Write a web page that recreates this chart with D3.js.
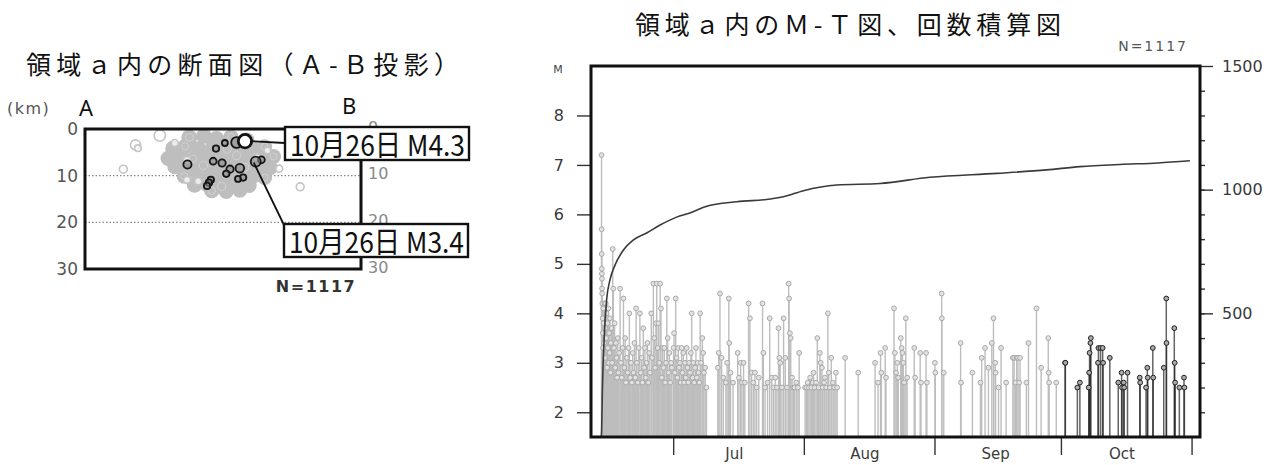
<!DOCTYPE html>
<html>
<head>
<meta charset="utf-8">
<script src="https://cdn.jsdelivr.net/npm/d3@7"></script>
<style>
  body { margin: 0; background: #fff; }
  svg { display: block; }
</style>
</head>
<body>
<script>
// ---------- Data: cross section (distance along A-B in km, depth km, M) ----------
var cloudQuakes = [
  [22.3, 1.8, 2.8], [25.4, 1.5, 2.7], [28.1, 2.2, 2.9], [31.2, 1.7, 2.6], [34.6, 2.4, 2.7],
  [18.9, 4.2, 2.9], [21.4, 3.7, 2.6], [24.2, 4.4, 3.0], [27.3, 3.9, 2.7], [30.4, 4.3, 2.9],
  [33.2, 4.0, 2.6], [36.1, 4.5, 2.8], [38.4, 3.8, 2.6],
  [17.8, 6.3, 2.7], [20.3, 5.9, 2.9], [23.1, 6.4, 2.7], [26.2, 5.8, 3.0], [29.1, 6.2, 2.8],
  [32.4, 5.7, 2.9], [35.3, 6.1, 2.7], [38.2, 6.4, 2.8], [40.3, 5.9, 2.6],
  [19.2, 8.1, 2.6], [22.1, 8.4, 2.8], [25.3, 7.8, 2.9], [28.2, 8.3, 2.7], [31.1, 7.9, 3.0],
  [34.2, 8.2, 2.8], [37.1, 7.7, 2.7], [39.6, 8.3, 2.6],
  [21.2, 10.1, 2.6], [24.3, 9.7, 2.8], [27.2, 10.3, 2.9], [30.1, 9.8, 2.7], [33.3, 10.2, 2.8],
  [36.2, 9.9, 2.7], [38.4, 10.4, 2.6],
  [23.4, 12.0, 2.7], [26.1, 11.8, 2.8], [29.2, 12.3, 2.9], [32.2, 11.9, 2.7], [35.1, 12.1, 2.6],
  [27.1, 13.2, 2.7], [30.2, 13.4, 2.6], [33.1, 13.1, 2.6]
];
var oldOpenQuakes = [
  [10.8, 3.4, 3.3], [11.3, 4.1, 2.5], [16.0, 1.4, 3.6], [8.2, 8.6, 2.8],
  [21.8, 6.7, 2.7], [21.8, 10.9, 2.6], [36.8, 6.2, 2.8], [41.5, 8.5, 2.6], [46.0, 12.4, 2.8],
  [19.2, 3.0, 2.6], [24.2, 11.2, 2.6], [39.0, 4.6, 2.5]
];
var octQuakesXS = [
  [32.4, 2.9, 3.6], [28.0, 4.2, 2.6], [21.9, 7.6, 3.0], [27.4, 6.9, 2.7], [29.3, 7.3, 2.8],
  [31.0, 8.6, 2.8], [33.1, 8.4, 3.1], [33.8, 10.4, 2.6], [32.7, 10.7, 2.5], [26.9, 10.9, 2.6],
  [26.5, 11.5, 2.6], [26.1, 12.2, 2.6], [37.7, 6.6, 2.7], [29.9, 3.0, 2.5], [30.2, 9.6, 2.6]
];
var mainQuakeXS = [34.2, 2.6, 4.3];
var secondQuakeXS = [36.5, 7.0, 3.4];
var depthTicks = [0, 10, 20, 30];
var gridDepths = [10, 20];

// ---------- Data: M-T diagram, [day of month, M] ----------
var junQuakes = [
  [14.0, 7.2], [14.02, 5.7], [14.04, 5.2], [14.06, 4.9], [14.08, 4.8], [14.1, 4.7], [14.12, 4.5],
  [14.15, 4.4], [14.2, 4.2], [14.25, 3.9], [14.3, 3.6], [14.35, 3.3], [14.4, 4.1], [14.5, 3.8],
  [14.6, 3.4], [14.7, 4.2], [14.8, 3.1], [14.9, 3.7], [15.0, 4.2], [15.1, 3.5], [15.2, 4.0],
  [15.3, 2.9], [15.4, 3.8], [15.5, 3.3], [15.6, 4.1], [15.7, 3.0], [15.8, 3.6], [15.9, 3.2],
  [16.0, 3.9], [16.1, 2.8], [16.2, 3.4], [16.35, 3.7], [16.5, 3.0], [16.65, 5.3], [16.8, 4.5],
  [16.95, 3.3], [17.1, 3.8], [17.25, 2.9], [17.4, 3.4], [17.55, 3.1], [17.7, 2.7], [17.85, 3.5],
  [18.0, 2.8], [18.15, 3.2], [18.4, 4.5], [18.6, 3.0], [18.8, 2.7], [19.0, 3.3], [19.2, 4.3],
  [19.4, 2.9], [19.6, 3.5], [19.8, 2.6], [20.0, 3.1], [20.2, 2.8], [20.4, 3.3], [20.6, 4.0],
  [20.8, 2.7], [21.0, 3.0], [21.2, 2.6], [21.4, 3.2], [21.6, 2.8], [21.8, 3.4], [22.0, 2.7],
  [22.2, 4.1], [22.4, 3.0], [22.6, 2.6], [22.8, 3.3], [23.1, 4.0], [23.3, 2.8], [23.5, 3.1],
  [23.7, 2.6], [23.9, 3.7], [24.1, 2.9], [24.3, 3.3], [24.5, 2.7], [24.7, 3.0], [24.9, 3.4],
  [25.1, 2.6], [25.3, 3.2], [25.5, 2.8], [25.8, 4.0], [26.0, 3.1], [26.3, 4.6], [26.5, 3.5],
  [26.7, 2.9], [26.9, 3.8], [27.1, 4.6], [27.3, 3.3], [27.5, 3.8], [27.7, 3.0], [27.9, 4.6],
  [28.1, 4.1], [28.3, 2.7], [28.5, 3.3], [28.7, 2.9], [28.9, 3.3], [29.1, 2.6], [29.3, 3.0],
  [29.5, 4.3], [29.7, 3.5], [29.9, 2.8], [30.1, 3.2], [30.3, 2.6], [30.5, 3.0], [30.7, 2.9]
];
var julQuakes = [
  [1.1, 3.3], [1.2, 3.6], [1.4, 2.8], [1.6, 4.3], [1.8, 3.1], [2.0, 2.7], [2.2, 3.3], [2.4, 2.9],
  [2.6, 3.0], [2.8, 2.6], [3.0, 3.3], [3.2, 2.8], [3.4, 3.2], [3.6, 2.6], [3.8, 3.0], [4.0, 2.7],
  [4.2, 3.3], [4.4, 2.9], [4.6, 2.6], [4.8, 3.0], [5.0, 2.8], [5.2, 3.2], [5.4, 4.0], [5.6, 2.7],
  [5.8, 3.0], [6.0, 2.6], [6.2, 2.9], [6.4, 3.3], [6.6, 2.7], [6.8, 3.0], [7.0, 2.8], [7.2, 2.6],
  [7.4, 4.0], [7.6, 3.0], [7.9, 3.5], [8.1, 3.2], [8.3, 2.8], [8.6, 2.9], [8.9, 2.5],
  [11.6, 2.9], [11.8, 3.2], [12.1, 4.4], [12.5, 3.1], [12.9, 2.7], [13.5, 2.6], [13.8, 3.0],
  [14.2, 4.3], [14.3, 3.4], [14.6, 2.8], [15.2, 2.6], [16.3, 3.2], [16.6, 2.7], [17.0, 3.0],
  [17.3, 2.6], [17.7, 3.0], [18.0, 2.6], [18.9, 4.2], [19.2, 3.9], [19.6, 2.8], [20.0, 2.6],
  [20.4, 2.8], [20.8, 2.5], [21.3, 2.7], [22.2, 4.2], [22.4, 3.2], [22.8, 2.5], [23.4, 2.6],
  [23.9, 3.9], [24.4, 2.7], [24.8, 2.5], [25.2, 2.7], [25.6, 2.5], [26.0, 3.7], [26.2, 3.1],
  [26.4, 3.0], [26.8, 2.5], [27.2, 3.9], [27.6, 3.1], [28.0, 2.5], [28.4, 4.6], [28.5, 4.3],
  [28.7, 3.6], [28.9, 3.5], [29.2, 2.7], [29.5, 2.5], [29.8, 2.5], [30.2, 2.6], [30.6, 2.5],
  [30.9, 3.2]
];
var augQuakes = [
  [1.3, 2.5], [1.6, 2.5], [1.9, 2.6], [2.2, 2.5], [2.5, 2.7], [2.8, 2.5], [3.1, 2.6], [3.3, 2.8],
  [3.6, 2.5], [3.9, 2.6], [4.2, 3.5], [4.5, 2.5], [4.8, 3.2], [5.0, 3.0], [5.3, 2.9], [5.5, 2.5],
  [5.8, 2.6], [6.0, 2.7], [6.3, 2.5], [6.7, 4.0], [6.9, 2.8], [7.2, 2.5], [7.5, 3.1], [7.9, 2.6],
  [8.2, 2.5], [8.6, 2.8], [8.9, 2.5], [10.8, 3.1], [13.9, 2.8], [17.9, 3.0], [18.6, 2.6],
  [19.2, 3.2], [19.4, 2.8], [20.3, 3.3], [20.5, 2.7], [22.4, 4.1], [22.6, 3.2], [22.9, 2.8],
  [23.2, 3.0], [23.4, 2.7], [24.0, 3.5], [24.2, 3.3], [24.4, 3.2], [24.6, 3.0], [24.8, 2.6],
  [25.2, 3.9], [25.5, 2.7], [27.2, 3.3], [27.4, 2.7], [28.6, 3.2], [28.8, 2.6], [30.0, 3.2],
  [30.2, 2.6]
];
var sepQuakes = [
  [1.1, 3.0], [1.2, 2.8], [2.7, 4.4], [2.75, 3.9], [3.2, 2.8], [7.2, 3.4], [7.3, 2.6], [10.0, 2.8],
  [11.9, 2.6], [12.2, 3.1], [13.0, 3.3], [13.8, 2.9], [14.6, 3.4], [15.0, 3.9], [15.4, 3.0],
  [15.5, 2.8], [16.2, 2.5], [16.8, 3.3], [18.0, 2.6], [19.6, 3.1], [19.9, 3.1], [20.2, 2.6],
  [20.5, 3.1], [20.8, 3.1], [21.1, 2.6], [21.3, 3.1], [22.8, 2.6], [23.3, 3.4], [25.2, 4.1],
  [26.3, 2.9], [28.0, 3.5], [28.1, 2.8], [28.2, 2.6], [29.9, 2.6]
];
var octQuakes = [
  [2.0, 3.0], [2.05, 3.0], [4.9, 2.5], [5.5, 2.6], [7.6, 2.5], [7.7, 2.8], [7.8, 3.2], [8.0, 3.4],
  [8.1, 3.5], [9.8, 3.0], [9.9, 3.3], [10.4, 3.3], [10.9, 3.3], [11.0, 3.0], [12.6, 3.1],
  [14.6, 2.6], [15.4, 2.8], [15.5, 2.5], [15.9, 2.6], [16.0, 2.5], [16.8, 2.8], [19.7, 2.7],
  [19.8, 2.6], [21.2, 2.5], [21.5, 2.9], [21.6, 2.7], [22.8, 3.3], [22.9, 2.7], [25.4, 2.9],
  [26.0, 4.3], [26.05, 3.4], [27.9, 3.7], [28.0, 3.0], [28.1, 2.6], [29.1, 2.5], [30.2, 2.7],
  [30.3, 2.5]
];
// cumulative count: days after 1 June, count
var cumDay = [12.9, 13.0, 13.2, 13.6, 14.2, 15.0, 16.2, 18.2, 20.5, 23.7, 26.9, 30.8, 34.0, 37.8,
  45.1, 53.0, 56.1, 60.9, 68.8, 79.1, 90.9, 106.8, 118.6, 126.5, 136.0, 145.0, 152.6];
var cumCount = [0, 16, 190, 392, 554, 635, 695, 756, 796, 825, 857, 889, 906, 932,
  951, 962, 971, 996, 1019, 1025, 1050, 1066, 1080, 1093, 1102, 1108, 1117];
var mTicks = [2, 3, 4, 5, 6, 7, 8];
var nTicks = [500, 1000, 1500];
var monthLabels = ["Jul", "Aug", "Sep", "Oct"];
var totalCount = 1117;

// ---------- SVG ----------
var width = 1281, height = 465;
var svg = d3.select("body").append("svg")
  .attr("width", width)
  .attr("height", height);

var jpFont = "'Noto Sans CJK JP', 'Noto Sans', sans-serif";
var numFont = "'DejaVu Sans', Verdana, sans-serif";

// Titles
svg.append("text")
  .attr("x", 26).attr("y", 74)
  .attr("textLength", 433).attr("lengthAdjust", "spacing")
  .style("font-family", jpFont).style("font-size", "25px").attr("fill", "#111")
  .text("領域ａ内の断面図（Ａ-Ｂ投影）");

svg.append("text")
  .attr("x", 635).attr("y", 34)
  .attr("textLength", 426).attr("lengthAdjust", "spacing")
  .style("font-family", jpFont).style("font-size", "25px").attr("fill", "#111")
  .text("領域ａ内のＭ-Ｔ図、回数積算図");

// ================= Cross section =================
var xs = d3.scaleLinear().domain([0, 59]).range([85, 361]);
var ys = d3.scaleLinear().domain([0, 30]).range([129, 269]);
var rs = d3.scaleLinear().domain([2.5, 4.3]).range([3.3, 7.2]);

var xsec = svg.append("g");

// dotted depth lines
xsec.selectAll(".grid").data(gridDepths).enter().append("line")
  .attr("x1", xs(0)).attr("x2", xs(59))
  .attr("y1", function (d) { return ys(d); })
  .attr("y2", function (d) { return ys(d); })
  .attr("stroke", "#888").attr("stroke-width", 1.3)
  .attr("stroke-dasharray", "1.5,2");

// depth labels left and right (right ones partly hidden behind the label boxes)
xsec.selectAll(".dl").data(depthTicks).enter().append("text")
  .attr("x", 78).attr("y", function (d) { return ys(d); })
  .attr("dy", "0.36em").attr("text-anchor", "end")
  .style("font-family", numFont).style("font-size", "17px").attr("fill", "#555")
  .text(function (d) { return d; });

xsec.append("clipPath").attr("id", "rclip")
  .selectAll("rect").data([[362, 100, 40, 26], [362, 160, 40, 63], [362, 259, 40, 30]])
  .enter().append("rect")
  .attr("x", function (d) { return d[0]; }).attr("y", function (d) { return d[1]; })
  .attr("width", function (d) { return d[2]; }).attr("height", function (d) { return d[3]; });
xsec.append("g").attr("clip-path", "url(#rclip)")
  .selectAll(".dr").data(depthTicks).enter().append("text")
  .attr("x", 368).attr("y", function (d) { return ys(d) - 2; })
  .attr("dy", "0.36em")
  .style("font-family", numFont).style("font-size", "16px").attr("fill", "#888")
  .text(function (d) { return d; });

xsec.append("text").attr("x", 7).attr("y", 114)
  .style("font-family", numFont).style("font-size", "16px").attr("fill", "#555")
  .attr("letter-spacing", "1.5px")
  .text("(km)");
xsec.append("text").attr("x", 79).attr("y", 116)
  .style("font-family", "'Noto Sans', sans-serif").style("font-size", "22px").attr("fill", "#111")
  .text("A");
xsec.append("text").attr("x", 342).attr("y", 114)
  .style("font-family", "'Noto Sans', sans-serif").style("font-size", "22px").attr("fill", "#111")
  .text("B");

// gray cloud of earlier hypocenters
xsec.selectAll(".cloud").data(cloudQuakes).enter().append("circle")
  .attr("cx", function (d) { return xs(d[0]); })
  .attr("cy", function (d) { return ys(d[1]); })
  .attr("r", function (d) { return rs(d[2]) + 4; })
  .attr("fill", "#bebebe");
xsec.selectAll(".cloudring").data(cloudQuakes.filter(function (d, i) { return i % 3 === 0; }))
  .enter().append("circle")
  .attr("cx", function (d) { return xs(d[0]); })
  .attr("cy", function (d) { return ys(d[1]); })
  .attr("r", function (d) { return rs(d[2]); })
  .attr("fill", "none").attr("stroke", "#d2d2d2").attr("stroke-width", 1);

xsec.selectAll(".old").data(oldOpenQuakes).enter().append("circle")
  .attr("cx", function (d) { return xs(d[0]); })
  .attr("cy", function (d) { return ys(d[1]); })
  .attr("r", function (d) { return rs(d[2]); })
  .attr("fill", "#fff").attr("fill-opacity", 0.7)
  .attr("stroke", "#c4c4c4").attr("stroke-width", 1.6);

// October hypocenters
xsec.selectAll(".oct").data(octQuakesXS.concat([secondQuakeXS])).enter().append("circle")
  .attr("cx", function (d) { return xs(d[0]); })
  .attr("cy", function (d) { return ys(d[1]); })
  .attr("r", function (d) { return rs(d[2]) - 0.3; })
  .attr("fill", "#8a8a8a").attr("fill-opacity", 0.6)
  .attr("stroke", "#151515").attr("stroke-width", 1.8);

xsec.append("circle")
  .attr("cx", xs(mainQuakeXS[0])).attr("cy", ys(mainQuakeXS[1]))
  .attr("r", rs(mainQuakeXS[2]) - 0.5)
  .attr("fill", "#fff").attr("stroke", "#111").attr("stroke-width", 2.8);

// frame
xsec.append("rect")
  .attr("x", xs(0)).attr("y", ys(0))
  .attr("width", xs(59) - xs(0)).attr("height", ys(30) - ys(0))
  .attr("fill", "none").attr("stroke", "#111").attr("stroke-width", 3);

// leader lines and label boxes
xsec.append("line")
  .attr("x1", xs(mainQuakeXS[0]) + 5).attr("y1", ys(mainQuakeXS[1]))
  .attr("x2", 285).attr("y2", 143)
  .attr("stroke", "#111").attr("stroke-width", 1.8);
xsec.append("line")
  .attr("x1", xs(secondQuakeXS[0]) - 2).attr("y1", ys(secondQuakeXS[1]) + 1)
  .attr("x2", 284).attr("y2", 225)
  .attr("stroke", "#111").attr("stroke-width", 1.8);

var boxes = [
  { x: 285, y: 127, text: "10月26日 M4.3" },
  { x: 284, y: 224, text: "10月26日 M3.4" }
];
boxes.forEach(function (b) {
  xsec.append("rect")
    .attr("x", b.x).attr("y", b.y).attr("width", 184).attr("height", 33)
    .attr("fill", "#fff").attr("stroke", "#111").attr("stroke-width", 2.4);
  xsec.append("text")
    .attr("x", b.x + 5).attr("y", b.y + 29)
    .attr("textLength", 175).attr("lengthAdjust", "spacingAndGlyphs")
    .style("font-family", jpFont).style("font-size", "29px").attr("fill", "#111")
    .text(b.text);
});

xsec.append("text").attr("x", 316).attr("y", 292)
  .attr("text-anchor", "middle").attr("letter-spacing", "1.5px")
  .style("font-family", numFont).style("font-size", "16px").style("font-weight", "bold")
  .attr("fill", "#333")
  .text("N=" + totalCount);

// ================= M-T diagram =================
var x = d3.scaleTime()
  .domain([new Date(2023, 5, 11, 12), new Date(2023, 10, 3)])
  .range([591, 1200]);
var yM = d3.scaleLinear().domain([1.5, 9]).range([437, 66]);
var yN = d3.scaleLinear().domain([0, 1500]).range([437, 66]);

function monthDate(m, dom) {
  return new Date(new Date(2023, m, 1).getTime() + (dom - 1) * 864e5);
}
function toEvents(list, m, isOct) {
  return list.map(function (d) { return { t: monthDate(m, d[0]), mag: d[1], oct: isOct }; });
}
var grayEvents = [].concat(
  toEvents(junQuakes, 5, false), toEvents(julQuakes, 6, false),
  toEvents(augQuakes, 7, false), toEvents(sepQuakes, 8, false));
var octEvents = toEvents(octQuakes, 9, true);

var mt = svg.append("g");

// stems
mt.selectAll(".gstem").data(grayEvents).enter().append("line")
  .attr("x1", function (d) { return x(d.t); })
  .attr("x2", function (d) { return x(d.t); })
  .attr("y1", yM(1.5)).attr("y2", function (d) { return yM(d.mag); })
  .attr("stroke", "#bdbdbd").attr("stroke-width", 1.4);
mt.selectAll(".gdot").data(grayEvents).enter().append("circle")
  .attr("cx", function (d) { return x(d.t); })
  .attr("cy", function (d) { return yM(d.mag); })
  .attr("r", 2.4)
  .attr("fill", "#e2e2e2").attr("stroke", "#a9a9a9").attr("stroke-width", 1);

mt.selectAll(".ostem").data(octEvents).enter().append("line")
  .attr("x1", function (d) { return x(d.t); })
  .attr("x2", function (d) { return x(d.t); })
  .attr("y1", yM(1.5)).attr("y2", function (d) { return yM(d.mag); })
  .attr("stroke", "#222").attr("stroke-opacity", 0.7).attr("stroke-width", 1.5);
mt.selectAll(".odot").data(octEvents).enter().append("circle")
  .attr("cx", function (d) { return x(d.t); })
  .attr("cy", function (d) { return yM(d.mag); })
  .attr("r", 2.4)
  .attr("fill", "#aaa").attr("stroke", "#222").attr("stroke-width", 1);

// cumulative count line
var cumData = cumDay.map(function (d, i) {
  return { t: new Date(new Date(2023, 5, 1).getTime() + d * 864e5), n: cumCount[i] };
});
mt.append("path")
  .datum(cumData)
  .attr("d", d3.line()
    .x(function (d) { return x(d.t); })
    .y(function (d) { return yN(d.n); })
    .curve(d3.curveMonotoneX))
  .attr("fill", "none").attr("stroke", "#3a3a3a").attr("stroke-width", 1.6);

// axes
var leftAxis = mt.append("g").attr("transform", "translate(591,0)")
  .call(d3.axisLeft(yM).tickValues(mTicks).tickSize(14).tickPadding(13));
var rightAxis = mt.append("g").attr("transform", "translate(1200,0)")
  .call(d3.axisRight(yN).tickValues(nTicks).tickSize(13).tickPadding(9).tickFormat(d3.format("d")));
var minorAxis = mt.append("g").attr("transform", "translate(1200,0)")
  .call(d3.axisRight(yN).tickValues(d3.range(100, 1500, 100)).tickSize(5).tickFormat(""));

var monthStarts = [6, 7, 8, 9, 10].map(function (m) { return new Date(2023, m, 1); });
var bottomAxis = mt.append("g").attr("transform", "translate(0,437)")
  .call(d3.axisBottom(x).tickValues(monthStarts).tickSize(18).tickFormat(""));

[leftAxis, rightAxis, minorAxis, bottomAxis].forEach(function (g) {
  g.select(".domain").remove();
  g.selectAll("line").attr("stroke", "#333").attr("stroke-width", 1.4);
  g.selectAll("text")
    .style("font-family", numFont).style("font-size", "16px").attr("fill", "#3a3a3a");
});

mt.selectAll(".mlab").data(monthLabels).enter().append("text")
  .attr("x", function (d, i) { return x(new Date(2023, 6 + i, 15, 12)); })
  .attr("y", 459)
  .attr("text-anchor", "middle")
  .style("font-family", numFont).style("font-size", "15px").attr("fill", "#3a3a3a")
  .text(function (d) { return d; });

// frame
mt.append("rect")
  .attr("x", 591).attr("y", 66).attr("width", 609).attr("height", 371)
  .attr("fill", "none").attr("stroke", "#111").attr("stroke-width", 3);

mt.append("text").attr("x", 558).attr("y", 73)
  .attr("text-anchor", "middle")
  .style("font-family", numFont).style("font-size", "11px").attr("fill", "#444")
  .text("M");
mt.append("text").attr("x", 1188).attr("y", 51)
  .attr("text-anchor", "end").attr("letter-spacing", "2px")
  .style("font-family", numFont).style("font-size", "14px").attr("fill", "#555")
  .text("N=" + totalCount);
</script>
</body>
</html>
